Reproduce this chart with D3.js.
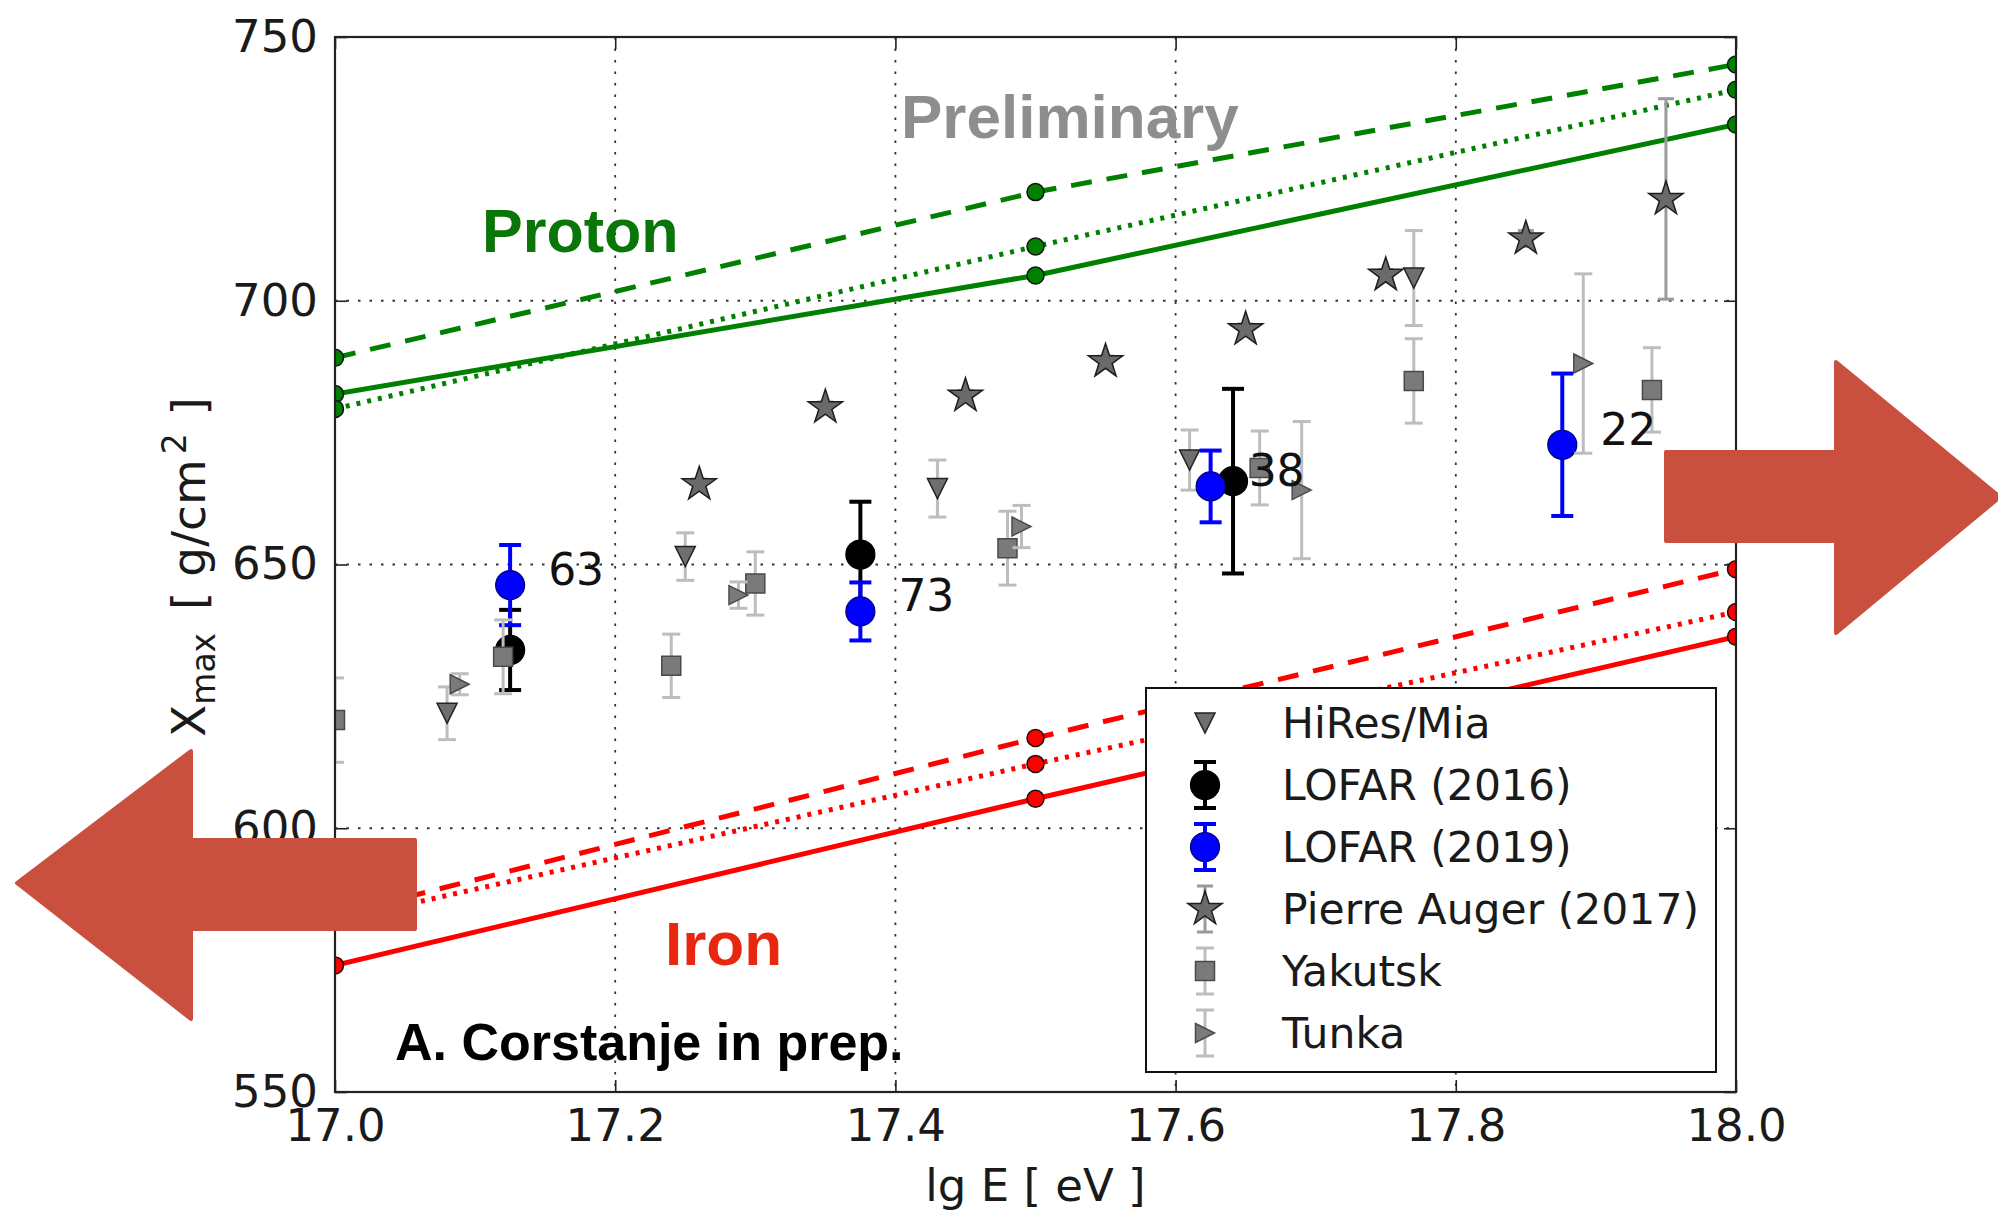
<!DOCTYPE html>
<html><head><meta charset="utf-8">
<script src="https://cdn.jsdelivr.net/npm/d3@7"></script>
<style>
html,body{margin:0;padding:0;background:#fff;}
svg{display:block;}
</style></head>
<body>
<svg id="chart" width="1998" height="1214"></svg>
<script>
// ---------- data ----------
const xDomain = [17.0, 18.0];
const yDomain = [550, 750];
const xTicks = [17.0, 17.2, 17.4, 17.6, 17.8, 18.0];
const yTicks = [550, 600, 650, 700, 750];

// air-shower model predictions (lg E = 17.0, 17.5, 18.0)
const modelX = [17.0, 17.5, 18.0];
const protonSolid  = [682.3, 704.8, 733.4];
const protonDashed = [689.2, 720.6, 744.8];
const protonDotted = [679.5, 710.3, 740.0];
const ironSolid    = [574.0, 605.6, 636.3];
const ironDashed   = [583.5, 617.1, 649.1];
const ironDotted   = [582.5, 612.2, 641.0];

// measurements
const hiresX   = [17.08, 17.25, 17.43, 17.61, 17.77];
const hiresY   = [621.8, 651.5, 664.4, 669.8, 704.3];
const hiresErr = [5.0, 4.5, 5.4, 5.7, 9.0];

const lofar16X   = [17.125, 17.375, 17.641];
const lofar16Y   = [633.8, 651.9, 665.8];
const lofar16Err = [7.6, 10.0, 17.5];

const lofar19X   = [17.125, 17.375, 17.625, 17.876];
const lofar19Y   = [646.1, 641.1, 664.8, 672.7];
const lofar19Err = [7.6, 5.5, 6.8, 13.5];
const lofar19N   = ["63", "73", "38", "22"];

const augerX   = [17.26, 17.35, 17.45, 17.55, 17.65, 17.75, 17.85, 17.95];
const augerY   = [665.2, 679.8, 682.0, 688.5, 694.6, 704.9, 711.8, 719.3];
const augerErr = [1, 1, 1, 1, 1, 1, 1.5, 19];

const yakutskX   = [17.0, 17.12, 17.24, 17.30, 17.48, 17.66, 17.77, 17.94];
const yakutskY   = [620.5, 632.5, 630.8, 646.4, 653.1, 668.3, 684.8, 683.1];
const yakutskErr = [8, 7, 6, 6, 7, 7, 8, 8];

const tunkaX   = [17.089, 17.288, 17.49, 17.69, 17.891];
const tunkaY   = [627.3, 644.2, 657.2, 664.1, 688.1];
const tunkaErr = [2, 2.5, 4, 13, 17];

const legendLabels = ["HiRes/Mia", "LOFAR (2016)", "LOFAR (2019)", "Pierre Auger (2017)", "Yakutsk", "Tunka"];

// ---------- layout ----------
const svg = d3.select('#chart');
const m = {left: 335, right: 1736, top: 37, bottom: 1092};
const x = d3.scaleLinear().domain(xDomain).range([m.left, m.right]);
const y = d3.scaleLinear().domain(yDomain).range([m.bottom, m.top]);
const FONT = "'DejaVu Sans', sans-serif";
const BOLD = "'Liberation Sans', Arial, sans-serif";

svg.append('defs').append('clipPath').attr('id', 'plotclip')
  .append('rect').attr('x', m.left).attr('y', m.top)
  .attr('width', m.right - m.left).attr('height', m.bottom - m.top);

// grid
const grid = svg.append('g').attr('stroke', '#333').attr('stroke-width', 1.8)
  .attr('stroke-dasharray', '2.5,9');
grid.selectAll('.gx').data(xTicks.slice(1, -1)).join('line')
  .attr('x1', d => x(d)).attr('x2', d => x(d)).attr('y1', m.top).attr('y2', m.bottom);
grid.selectAll('.gy').data(yTicks.slice(1, -1)).join('line')
  .attr('y1', d => y(d)).attr('y2', d => y(d)).attr('x1', m.left).attr('x2', m.right);

// axes
function styleAxis(g) {
  g.select('.domain').remove();
  g.selectAll('.tick line').attr('stroke', '#222').attr('stroke-width', 1.6);
  g.selectAll('.tick text').attr('font-family', FONT).attr('font-size', 45).attr('fill', '#1a1a1a');
}
svg.append('g').attr('transform', `translate(0,${m.bottom})`)
  .call(d3.axisBottom(x).tickValues(xTicks).tickFormat(d3.format('.1f'))
    .tickSizeInner(-12).tickSizeOuter(0).tickPadding(17)).call(styleAxis);
svg.append('g').attr('transform', `translate(${m.left},0)`)
  .call(d3.axisLeft(y).tickValues(yTicks).tickFormat(d3.format('d'))
    .tickSizeInner(-12).tickSizeOuter(0).tickPadding(17)).call(styleAxis);
svg.append('g').attr('transform', `translate(0,${m.top})`)
  .call(d3.axisTop(x).tickValues(xTicks).tickFormat('').tickSizeInner(-12).tickSizeOuter(0)).call(styleAxis);
svg.append('g').attr('transform', `translate(${m.right},0)`)
  .call(d3.axisRight(y).tickValues(yTicks).tickFormat('').tickSizeInner(-12).tickSizeOuter(0)).call(styleAxis);

// axis labels
svg.append('text').attr('x', (m.left + m.right) / 2).attr('y', 1201)
  .attr('text-anchor', 'middle').attr('font-family', FONT).attr('font-size', 45).attr('fill', '#1a1a1a')
  .text('lg E [ eV ]');
const yl = svg.append('text').attr('transform', 'translate(205,567) rotate(-90)')
  .attr('text-anchor', 'middle').attr('font-family', FONT).attr('font-size', 47).attr('fill', '#1a1a1a');
yl.append('tspan').text('X');
yl.append('tspan').attr('font-size', 33).attr('dy', 10).text('max');
yl.append('tspan').attr('dy', -10).attr('dx', 8).text('\u00a0[ g/cm');
yl.append('tspan').attr('font-size', 33).attr('dy', -19).attr('dx', 5).text('2');
yl.append('tspan').attr('dy', 19).attr('dx', 3).text('\u00a0]');

// plot layer
const plot = svg.append('g').attr('clip-path', 'url(#plotclip)');

// model lines
const models = [
  {v: protonSolid, c: '#008000', dash: null},
  {v: protonDashed, c: '#008000', dash: '21,15'},
  {v: protonDotted, c: '#008000', dash: '4,7'},
  {v: ironSolid, c: '#ff0000', dash: null},
  {v: ironDashed, c: '#ff0000', dash: '21,15'},
  {v: ironDotted, c: '#ff0000', dash: '4,7'}
];
const line = d3.line().x(d => x(d[0])).y(d => y(d[1]));
models.forEach(md => {
  const pts = modelX.map((xx, i) => [xx, md.v[i]]);
  plot.append('path').attr('d', line(pts)).attr('fill', 'none')
    .attr('stroke', md.c).attr('stroke-width', 5)
    .attr('stroke-dasharray', md.dash);
  plot.selectAll(null).data(pts).join('circle')
    .attr('cx', d => x(d[0])).attr('cy', d => y(d[1])).attr('r', 8.5)
    .attr('fill', md.c).attr('stroke', '#111').attr('stroke-width', 1.5);
});

// marker helpers
function markerPath(type, s) {
  if (type === 'star') return d3.symbol(d3.symbolStar, 364)();
  if (type === 'down') return `M${-s},${-s}L${s},${-s}L0,${s}Z`;
  if (type === 'right') return `M${-s},${-s}L${s},0L${-s},${s}Z`;
  if (type === 'square') return `M${-s},${-s}H${s}V${s}H${-s}Z`;
  return null;
}
const styles = {
  hires:  {type: 'down',   s: 10, fill: '#6f6f6f', stroke: '#222', err: '#bdbdbd', ew: 3, cap: 9},
  lofar16:{type: 'circle', s: 14.5, fill: '#000', stroke: '#000', err: '#000', ew: 4, cap: 11},
  lofar19:{type: 'circle', s: 14.5, fill: '#0000ff', stroke: '#00007a', err: '#0000ff', ew: 4, cap: 11},
  auger:  {type: 'star',   s: 18, fill: '#6a6a6a', stroke: '#1e1e1e', err: '#9a9a9a', ew: 3, cap: 8},
  yakutsk:{type: 'square', s: 9.5, fill: '#7a7a7a', stroke: '#4a4a4a', err: '#bdbdbd', ew: 3, cap: 9},
  tunka:  {type: 'right',  s: 9.5, fill: '#7a7a7a', stroke: '#4a4a4a', err: '#bdbdbd', ew: 3, cap: 9}
};
function drawMarker(g, st, cx, cy) {
  if (st.type === 'circle') {
    g.append('circle').attr('cx', cx).attr('cy', cy).attr('r', st.s)
      .attr('fill', st.fill).attr('stroke', st.stroke).attr('stroke-width', 1.2);
  } else {
    g.append('path').attr('d', markerPath(st.type, st.s))
      .attr('transform', `translate(${cx},${cy})`)
      .attr('fill', st.fill).attr('stroke', st.stroke).attr('stroke-width', 1.5)
      .attr('stroke-linejoin', 'miter');
  }
}
function drawErr(g, st, cx, y0, y1) {
  g.append('line').attr('x1', cx).attr('x2', cx).attr('y1', y0).attr('y2', y1)
    .attr('stroke', st.err).attr('stroke-width', st.ew);
  [y0, y1].forEach(yy => g.append('line').attr('x1', cx - st.cap).attr('x2', cx + st.cap)
    .attr('y1', yy).attr('y2', yy).attr('stroke', st.err).attr('stroke-width', st.ew));
}
function series(xs, ys, errs, st) {
  const g = plot.append('g');
  xs.forEach((xx, i) => {
    drawErr(g, st, x(xx), y(ys[i] + errs[i]), y(ys[i] - errs[i]));
  });
  xs.forEach((xx, i) => drawMarker(g, st, x(xx), y(ys[i])));
}
series(hiresX, hiresY, hiresErr, styles.hires);
series(lofar16X, lofar16Y, lofar16Err, styles.lofar16);
series(lofar19X, lofar19Y, lofar19Err, styles.lofar19);
series(augerX, augerY, augerErr, styles.auger);
series(yakutskX, yakutskY, yakutskErr, styles.yakutsk);
series(tunkaX, tunkaY, tunkaErr, styles.tunka);

// event counts
svg.append('g').selectAll('text').data(lofar19N).join('text')
  .attr('x', (d, i) => x(lofar19X[i]) + 38).attr('y', (d, i) => y(lofar19Y[i]))
  .attr('font-family', FONT).attr('font-size', 44).attr('fill', '#111').text(d => d);

// annotations
svg.append('text').attr('x', 901).attr('y', 138).attr('font-family', BOLD).attr('font-weight', 'bold')
  .attr('font-size', 62).attr('fill', '#8e8e8e').text('Preliminary');
svg.append('text').attr('x', 482).attr('y', 252).attr('font-family', BOLD).attr('font-weight', 'bold')
  .attr('font-size', 61).attr('fill', '#0a760a').text('Proton');
svg.append('text').attr('x', 665).attr('y', 965).attr('font-family', BOLD).attr('font-weight', 'bold')
  .attr('font-size', 62).attr('fill', '#e8270f').text('Iron');
svg.append('text').attr('x', 395).attr('y', 1060).attr('font-family', BOLD).attr('font-weight', 'bold')
  .attr('font-size', 52).attr('fill', '#000').text('A. Corstanje in prep.');

// legend
const lg = svg.append('g');
lg.append('rect').attr('x', 1146).attr('y', 688).attr('width', 570).attr('height', 384)
  .attr('fill', '#fff').attr('stroke', '#111').attr('stroke-width', 2);
const legendStyles = [styles.hires, styles.lofar16, styles.lofar19, styles.auger, styles.yakutsk, styles.tunka];
const legendHasErr = [false, true, true, true, true, true];
legendLabels.forEach((lab, i) => {
  const cy = 723 + i * 62;
  const st = legendStyles[i];
  if (legendHasErr[i]) drawErr(lg, st, 1205, cy - 23, cy + 23);
  drawMarker(lg, st, 1205, cy);
  lg.append('text').attr('x', 1282).attr('y', cy).attr('dy', '0.36em')
    .attr('font-family', FONT).attr('font-size', 42.5).attr('fill', '#1a1a1a').text(lab);
});

// frame
svg.append('rect').attr('x', m.left).attr('y', m.top).attr('width', m.right - m.left)
  .attr('height', m.bottom - m.top).attr('fill', 'none').attr('stroke', '#222').attr('stroke-width', 2.2);

// red arrows (slide overlay)
const arrowColor = '#c9503f';
svg.append('path')
  .attr('d', 'M1666,452 L1836,452 L1836,362 L2000,497 L1836,633 L1836,541 L1666,541 Z')
  .attr('fill', arrowColor).attr('stroke', arrowColor).attr('stroke-width', 4).attr('stroke-linejoin', 'round');
svg.append('path')
  .attr('d', 'M415,840 L191,840 L191,751 L17,883 L191,1019 L191,929 L415,929 Z')
  .attr('fill', arrowColor).attr('stroke', arrowColor).attr('stroke-width', 4).attr('stroke-linejoin', 'round');
</script>
</body></html>
